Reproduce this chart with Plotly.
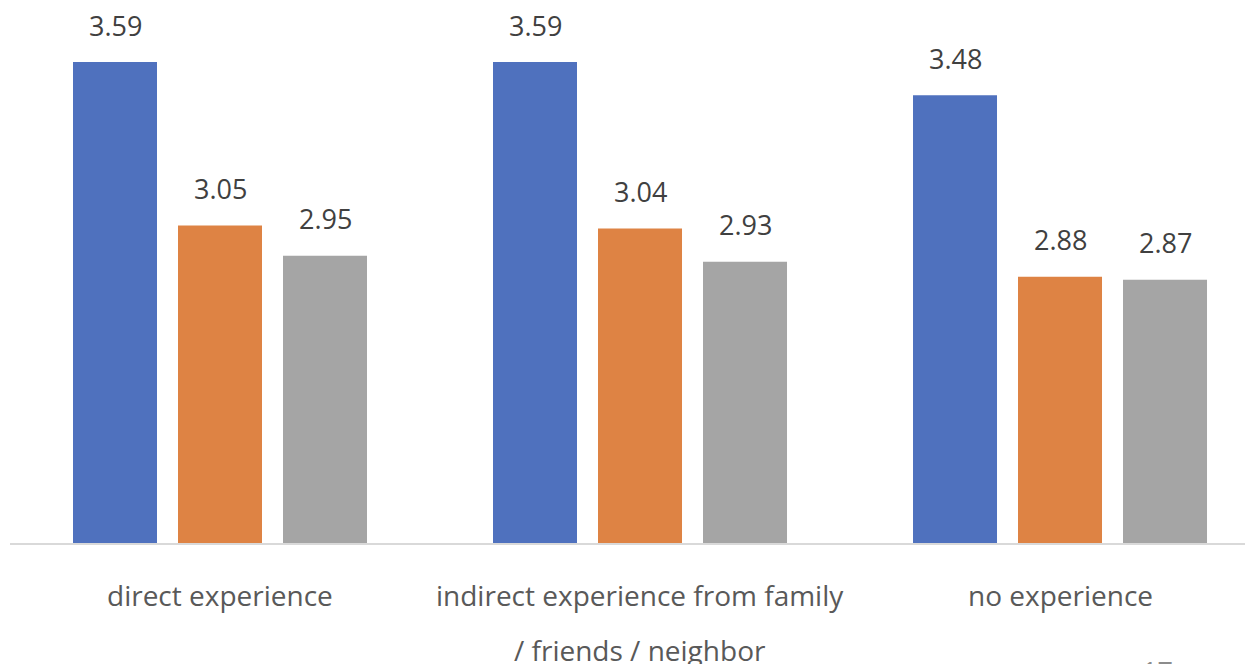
import plotly.graph_objects as go

categories = ["direct experience",
              "indirect experience from family<br>/ friends / neighbor",
              "no experience"]
series_names = ["Series 1", "Series 2", "Series 3"]
series1 = [3.59, 3.59, 3.48]
series2 = [3.05, 3.04, 2.88]
series3 = [2.95, 2.93, 2.87]
colors = ["#4F71BE", "#DE8344", "#A5A5A5"]
page_number = "17"

all_series = [series1, series2, series3]
FONT = "Open Sans"

fig = go.Figure()
x_idx = list(range(len(categories)))
for name, vals, col in zip(series_names, all_series, colors):
    fig.add_trace(go.Bar(x=x_idx, y=vals, name=name, marker_color=col,
                         marker_line_width=0, hoverinfo="y"))

annotations = []
offsets = [-0.25, 0.0, 0.25]
for vals, off in zip(all_series, offsets):
    for i, v in enumerate(vals):
        annotations.append(dict(x=i + off, y=v, xref="x", yref="y",
                                text=f"{v:.2f}", showarrow=False,
                                yanchor="middle", yshift=37,
                                font=dict(family=FONT, size=27, color="#404040")))
for i, cat in enumerate(categories):
    for j, line in enumerate(cat.split("<br>")):
        annotations.append(dict(x=i, y=0, xref="x", yref="paper",
                                text=line, showarrow=False,
                                yanchor="middle", yshift=-52 - 55 * j,
                                font=dict(family=FONT, size=28, color="#595959")))
annotations.append(dict(x=(1175 - 10) / 1243.0, y=0, xref="paper", yref="paper",
                        text=page_number, showarrow=False, yanchor="middle",
                        yshift=-128,
                        font=dict(family=FONT, size=27, color="#8C8C8C")))

# page body has an 8px margin: figure starts at (8, 8)
fig.update_layout(
    width=1245, height=656,
    margin=dict(l=2, r=0, t=0, b=121),
    paper_bgcolor="white", plot_bgcolor="white",
    barmode="group", bargap=0.25, bargroupgap=0.2,
    showlegend=False,
    annotations=annotations,
    xaxis=dict(type="linear", range=[-0.5, 2.4595], showticklabels=False,
               showgrid=False, zeroline=False, showline=True,
               linecolor="#D9D9D9", linewidth=1.5, ticks=""),
    yaxis=dict(range=[2.0, 3.7686], showticklabels=False, showgrid=False,
               zeroline=False, showline=False, ticks="", fixedrange=True),
)
fig.write_html("out.html")
